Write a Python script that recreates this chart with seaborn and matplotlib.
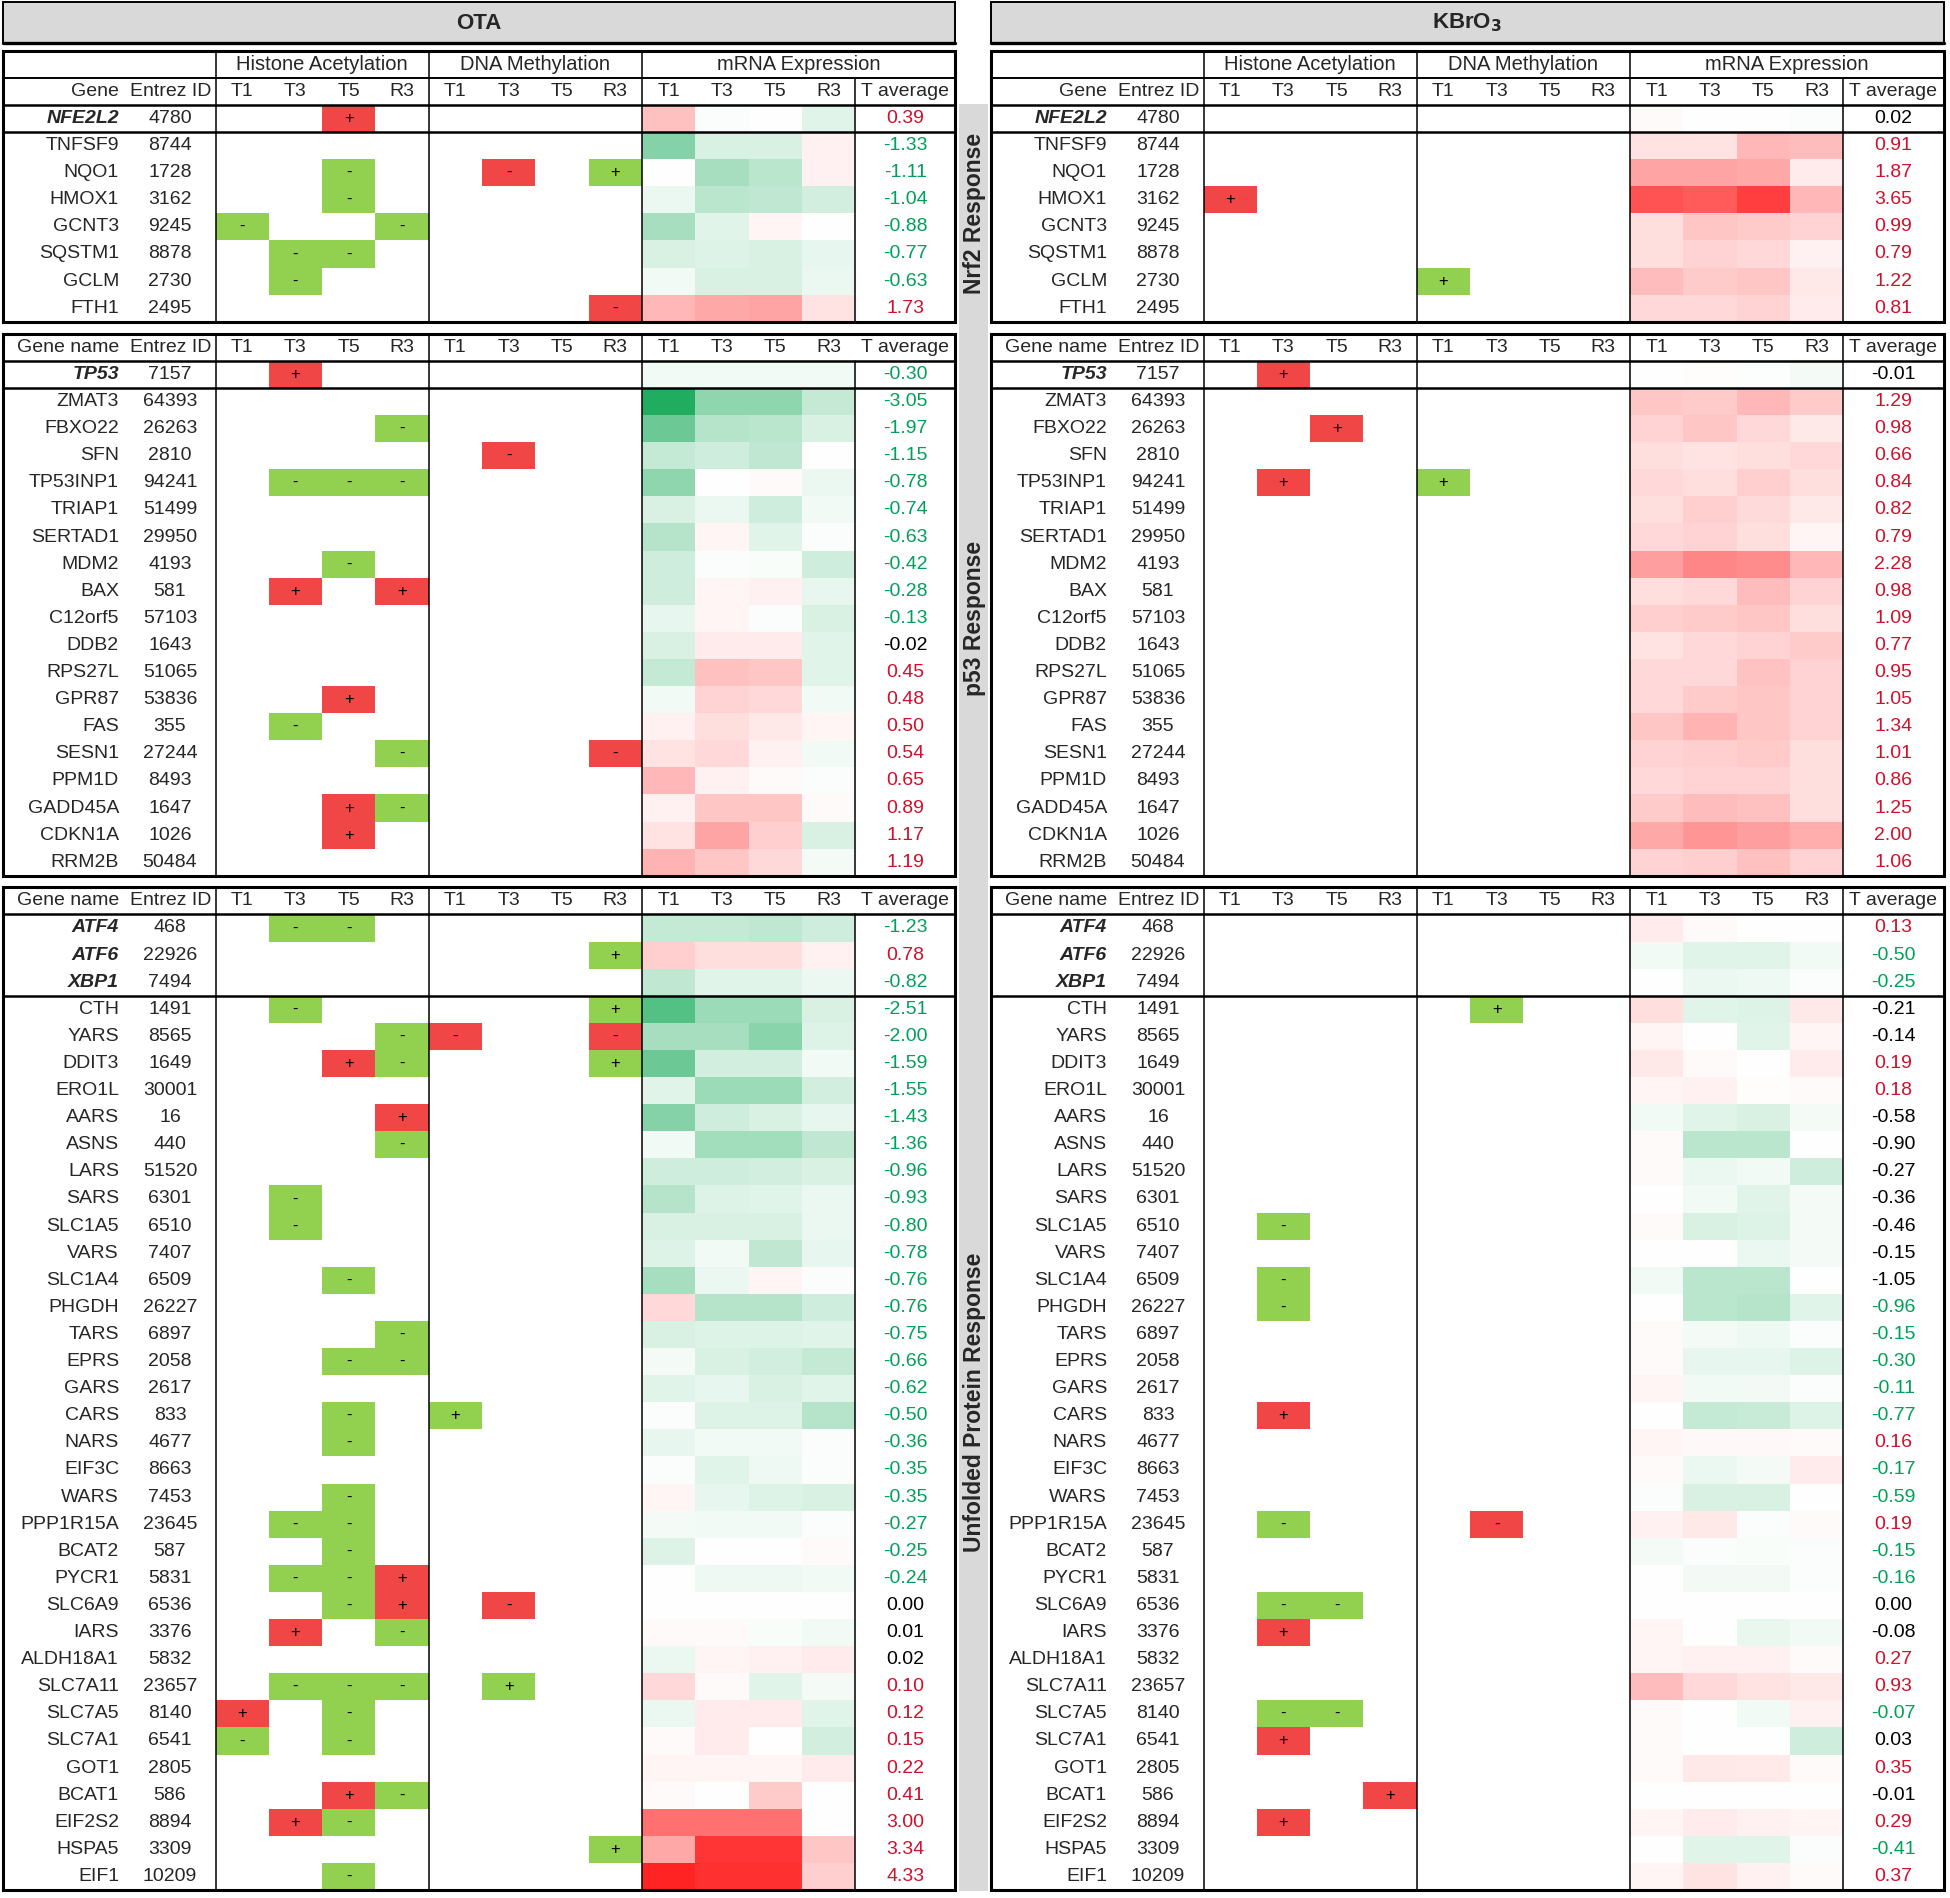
import numpy as np
import pandas as pd
import seaborn as sns
import matplotlib.pyplot as plt
from matplotlib.colors import LinearSegmentedColormap, ListedColormap
from matplotlib.patches import Rectangle

sns.set_theme(style="white")
plt.rcParams["font.family"] = ["Liberation Sans", "DejaVu Sans"]

time_points = ["T1", "T3", "T5", "R3"]
mark_cols = ["HA T1", "HA T3", "HA T5", "HA R3", "DM T1", "DM T3", "DM T5", "DM R3"]
treatments = ["OTA", r"KBrO$_\mathbf{3}$"]

# ---------------- Nrf2 response ----------------
nrf2_genes = ["NFE2L2", "TNFSF9", "NQO1", "HMOX1", "GCNT3", "SQSTM1", "GCLM", "FTH1"]
nrf2_entrez = ["4780", "8744", "1728", "3162", "9245", "8878", "2730", "2495"]

ota_nrf2_mrna = [
    [1.3, -0.1, 0.0, -0.6],
    [-2.5, -0.8, -0.8, 0.3],
    [0.0, -1.8, -1.4, 0.3],
    [-0.4, -1.4, -1.3, -0.9],
    [-1.8, -0.6, 0.2, 0.0],
    [-0.8, -0.7, -0.8, -0.5],
    [-0.3, -0.8, -0.8, -0.4],
    [1.5, 1.8, 1.9, 0.6],
]
ota_nrf2_avg = [0.39, -1.33, -1.11, -1.04, -0.88, -0.77, -0.63, 1.73]
ota_nrf2_marks = [
    ("NFE2L2", "HA T5", "+", "r"),
    ("NQO1", "HA T5", "-", "g"), ("NQO1", "DM T3", "-", "r"), ("NQO1", "DM R3", "+", "g"),
    ("HMOX1", "HA T5", "-", "g"),
    ("GCNT3", "HA T1", "-", "g"), ("GCNT3", "HA R3", "-", "g"),
    ("SQSTM1", "HA T3", "-", "g"), ("SQSTM1", "HA T5", "-", "g"),
    ("GCLM", "HA T3", "-", "g"),
    ("FTH1", "DM R3", "-", "r"),
]

kbro3_nrf2_mrna = [
    [0.1, 0.0, 0.0, -0.1],
    [0.6, 0.6, 1.5, 1.4],
    [1.9, 1.9, 1.8, 0.4],
    [3.6, 3.4, 4.0, 1.5],
    [0.7, 1.2, 1.1, 0.9],
    [0.7, 0.9, 0.8, 0.3],
    [1.4, 1.1, 1.2, 0.5],
    [0.8, 0.8, 0.9, 0.4],
]
kbro3_nrf2_avg = [0.02, 0.91, 1.87, 3.65, 0.99, 0.79, 1.22, 0.81]
kbro3_nrf2_marks = [
    ("HMOX1", "HA T1", "+", "r"),
    ("GCLM", "DM T1", "+", "g"),
]

# ---------------- p53 response ----------------
p53_genes = ["TP53", "ZMAT3", "FBXO22", "SFN", "TP53INP1", "TRIAP1", "SERTAD1", "MDM2", "BAX",
             "C12orf5", "DDB2", "RPS27L", "GPR87", "FAS", "SESN1", "PPM1D", "GADD45A", "CDKN1A", "RRM2B"]
p53_entrez = ["7157", "64393", "26263", "2810", "94241", "51499", "29950", "4193", "581",
              "57103", "1643", "51065", "53836", "355", "27244", "8493", "1647", "1026", "50484"]

ota_p53_mrna = [
    [-0.3, -0.3, -0.3, -0.3],
    [-4.5, -2.3, -2.3, -1.2],
    [-3.0, -1.5, -1.4, -0.8],
    [-1.2, -1.0, -1.3, 0.0],
    [-2.3, 0.0, 0.1, -0.4],
    [-0.8, -0.4, -1.0, -0.3],
    [-1.5, 0.2, -0.6, -0.1],
    [-1.0, -0.1, -0.15, -1.0],
    [-1.0, 0.2, 0.3, -0.5],
    [-0.5, 0.2, -0.1, -0.8],
    [-0.8, 0.4, 0.4, -0.6],
    [-1.2, 1.3, 1.2, -0.6],
    [-0.3, 0.9, 0.8, -0.3],
    [0.3, 0.7, 0.5, 0.2],
    [0.6, 0.8, 0.3, -0.3],
    [1.5, 0.3, 0.1, -0.1],
    [0.3, 1.2, 1.2, 0.1],
    [0.6, 1.9, 1.0, -0.8],
    [1.6, 1.2, 0.8, -0.2],
]
ota_p53_avg = [-0.30, -3.05, -1.97, -1.15, -0.78, -0.74, -0.63, -0.42, -0.28, -0.13,
               -0.02, 0.45, 0.48, 0.50, 0.54, 0.65, 0.89, 1.17, 1.19]
ota_p53_marks = [
    ("TP53", "HA T3", "+", "r"),
    ("FBXO22", "HA R3", "-", "g"),
    ("SFN", "DM T3", "-", "r"),
    ("TP53INP1", "HA T3", "-", "g"), ("TP53INP1", "HA T5", "-", "g"), ("TP53INP1", "HA R3", "-", "g"),
    ("MDM2", "HA T5", "-", "g"),
    ("BAX", "HA T3", "+", "r"), ("BAX", "HA R3", "+", "r"),
    ("GPR87", "HA T5", "+", "r"),
    ("FAS", "HA T3", "-", "g"),
    ("SESN1", "HA R3", "-", "g"), ("SESN1", "DM R3", "-", "r"),
    ("GADD45A", "HA T5", "+", "r"), ("GADD45A", "HA R3", "-", "g"),
    ("CDKN1A", "HA T5", "+", "r"),
]

kbro3_p53_mrna = [
    [0.0, 0.05, -0.05, -0.2],
    [1.2, 1.1, 1.5, 1.1],
    [0.9, 1.2, 0.8, 0.5],
    [0.7, 0.6, 0.7, 0.8],
    [0.8, 0.7, 1.0, 0.7],
    [0.7, 1.0, 0.75, 0.5],
    [0.8, 0.9, 0.7, 0.2],
    [2.0, 2.5, 2.4, 1.5],
    [0.7, 0.8, 1.4, 0.9],
    [1.0, 1.1, 1.2, 0.7],
    [0.6, 0.8, 0.9, 1.1],
    [0.8, 0.8, 1.25, 0.9],
    [0.8, 1.1, 1.2, 0.9],
    [1.2, 1.6, 1.2, 0.9],
    [0.9, 1.0, 1.1, 0.7],
    [0.8, 0.9, 0.9, 0.7],
    [1.1, 1.4, 1.3, 0.7],
    [1.8, 2.2, 2.0, 1.7],
    [0.9, 1.0, 1.3, 0.9],
]
kbro3_p53_avg = [-0.01, 1.29, 0.98, 0.66, 0.84, 0.82, 0.79, 2.28, 0.98, 1.09,
                 0.77, 0.95, 1.05, 1.34, 1.01, 0.86, 1.25, 2.00, 1.06]
kbro3_p53_marks = [
    ("TP53", "HA T3", "+", "r"),
    ("FBXO22", "HA T5", "+", "r"),
    ("TP53INP1", "HA T3", "+", "r"), ("TP53INP1", "DM T1", "+", "g"),
]

# ---------------- Unfolded protein response ----------------
upr_genes = ["ATF4", "ATF6", "XBP1", "CTH", "YARS", "DDIT3", "ERO1L", "AARS", "ASNS", "LARS",
             "SARS", "SLC1A5", "VARS", "SLC1A4", "PHGDH", "TARS", "EPRS", "GARS", "CARS", "NARS",
             "EIF3C", "WARS", "PPP1R15A", "BCAT2", "PYCR1", "SLC6A9", "IARS", "ALDH18A1", "SLC7A11",
             "SLC7A5", "SLC7A1", "GOT1", "BCAT1", "EIF2S2", "HSPA5", "EIF1"]
upr_entrez = ["468", "22926", "7494", "1491", "8565", "1649", "30001", "16", "440", "51520",
              "6301", "6510", "7407", "6509", "26227", "6897", "2058", "2617", "833", "4677",
              "8663", "7453", "23645", "587", "5831", "6536", "3376", "5832", "23657",
              "8140", "6541", "2805", "586", "8894", "3309", "10209"]

ota_upr_mrna = [
    [-1.2, -1.2, -1.3, -1.0],
    [1.0, 0.7, 0.7, 0.3],
    [-1.3, -0.6, -0.6, -0.4],
    [-3.5, -2.0, -2.0, -0.8],
    [-1.8, -1.8, -2.4, -0.7],
    [-3.0, -0.9, -0.9, -0.3],
    [-0.6, -2.0, -2.0, -0.9],
    [-2.5, -1.0, -0.8, -0.5],
    [-0.3, -1.9, -1.9, -1.3],
    [-1.0, -1.0, -0.9, -0.8],
    [-1.5, -0.7, -0.6, -0.4],
    [-0.8, -0.8, -0.8, -0.4],
    [-0.7, -0.3, -1.3, -0.5],
    [-1.8, -0.4, 0.2, -0.1],
    [0.8, -1.5, -1.5, -1.0],
    [-0.8, -0.7, -0.7, -0.6],
    [-0.2, -0.8, -0.9, -1.2],
    [-0.6, -0.5, -0.8, -0.6],
    [-0.1, -0.7, -0.7, -1.5],
    [-0.5, -0.3, -0.3, -0.1],
    [-0.1, -0.6, -0.35, -0.1],
    [0.2, -0.5, -0.7, -0.8],
    [-0.2, -0.3, -0.3, -0.1],
    [-0.7, 0.0, 0.0, 0.1],
    [0.0, -0.35, -0.35, -0.3],
    [0.0, 0.0, 0.0, 0.0],
    [0.1, 0.1, -0.15, -0.3],
    [-0.4, 0.2, 0.3, 0.4],
    [0.8, 0.1, -0.6, -0.2],
    [-0.4, 0.4, 0.4, -0.6],
    [0.1, 0.4, 0.0, -0.9],
    [0.2, 0.2, 0.2, 0.4],
    [0.1, 0.0, 1.1, 0.0],
    [3.0, 3.0, 3.0, 0.0],
    [1.8, 4.2, 4.2, 1.2],
    [4.6, 4.3, 4.3, 1.0],
]
ota_upr_avg = [-1.23, 0.78, -0.82, -2.51, -2.00, -1.59, -1.55, -1.43, -1.36, -0.96,
               -0.93, -0.80, -0.78, -0.76, -0.76, -0.75, -0.66, -0.62, -0.50, -0.36,
               -0.35, -0.35, -0.27, -0.25, -0.24, 0.00, 0.01, 0.02, 0.10,
               0.12, 0.15, 0.22, 0.41, 3.00, 3.34, 4.33]
ota_upr_marks = [
    ("ATF4", "HA T3", "-", "g"), ("ATF4", "HA T5", "-", "g"),
    ("ATF6", "DM R3", "+", "g"),
    ("CTH", "HA T3", "-", "g"), ("CTH", "DM R3", "+", "g"),
    ("YARS", "HA R3", "-", "g"), ("YARS", "DM T1", "-", "r"), ("YARS", "DM R3", "-", "r"),
    ("DDIT3", "HA T5", "+", "r"), ("DDIT3", "HA R3", "-", "g"), ("DDIT3", "DM R3", "+", "g"),
    ("AARS", "HA R3", "+", "r"),
    ("ASNS", "HA R3", "-", "g"),
    ("SARS", "HA T3", "-", "g"),
    ("SLC1A5", "HA T3", "-", "g"),
    ("SLC1A4", "HA T5", "-", "g"),
    ("TARS", "HA R3", "-", "g"),
    ("EPRS", "HA T5", "-", "g"), ("EPRS", "HA R3", "-", "g"),
    ("CARS", "HA T5", "-", "g"), ("CARS", "DM T1", "+", "g"),
    ("NARS", "HA T5", "-", "g"),
    ("WARS", "HA T5", "-", "g"),
    ("PPP1R15A", "HA T3", "-", "g"), ("PPP1R15A", "HA T5", "-", "g"),
    ("BCAT2", "HA T5", "-", "g"),
    ("PYCR1", "HA T3", "-", "g"), ("PYCR1", "HA T5", "-", "g"), ("PYCR1", "HA R3", "+", "r"),
    ("SLC6A9", "HA T5", "-", "g"), ("SLC6A9", "HA R3", "+", "r"), ("SLC6A9", "DM T3", "-", "r"),
    ("IARS", "HA T3", "+", "r"), ("IARS", "HA R3", "-", "g"),
    ("SLC7A11", "HA T3", "-", "g"), ("SLC7A11", "HA T5", "-", "g"), ("SLC7A11", "HA R3", "-", "g"),
    ("SLC7A11", "DM T3", "+", "g"),
    ("SLC7A5", "HA T1", "+", "r"), ("SLC7A5", "HA T5", "-", "g"),
    ("SLC7A1", "HA T1", "-", "g"), ("SLC7A1", "HA T5", "-", "g"),
    ("BCAT1", "HA T5", "+", "r"), ("BCAT1", "HA R3", "-", "g"),
    ("EIF2S2", "HA T3", "+", "r"), ("EIF2S2", "HA T5", "-", "g"),
    ("HSPA5", "DM R3", "+", "g"),
    ("EIF1", "HA T5", "-", "g"),
]

kbro3_upr_mrna = [
    [0.4, 0.1, 0.0, 0.0],
    [-0.3, -0.6, -0.6, -0.3],
    [0.0, -0.4, -0.35, -0.1],
    [0.7, -0.6, -0.7, 0.5],
    [0.2, 0.0, -0.6, 0.2],
    [0.5, 0.1, 0.0, 0.4],
    [0.2, 0.3, 0.05, 0.1],
    [-0.3, -0.6, -0.8, -0.2],
    [0.1, -1.4, -1.4, 0.0],
    [0.1, -0.4, -0.3, -1.0],
    [0.0, -0.3, -0.6, -0.2],
    [0.1, -0.8, -0.7, -0.2],
    [0.0, 0.0, -0.4, -0.2],
    [-0.3, -1.4, -1.4, 0.0],
    [0.0, -1.4, -1.5, -0.6],
    [0.1, -0.2, -0.35, -0.1],
    [0.1, -0.5, -0.5, -0.7],
    [0.2, -0.3, -0.25, -0.1],
    [0.0, -1.2, -1.1, -0.7],
    [0.2, 0.15, 0.15, 0.1],
    [0.1, -0.4, -0.2, 0.4],
    [-0.1, -0.8, -0.8, 0.0],
    [0.3, 0.5, -0.1, 0.1],
    [-0.2, -0.1, -0.15, -0.1],
    [0.0, -0.25, -0.25, -0.1],
    [0.0, 0.0, 0.0, 0.0],
    [0.2, 0.0, -0.45, -0.3],
    [0.2, 0.3, 0.3, 0.1],
    [1.4, 0.8, 0.6, 0.5],
    [0.1, 0.0, -0.3, 0.3],
    [0.1, 0.0, 0.0, -1.0],
    [0.1, 0.5, 0.45, 0.1],
    [0.0, 0.0, 0.0, 0.0],
    [0.2, 0.4, 0.3, 0.2],
    [0.0, -0.6, -0.6, -0.1],
    [0.2, 0.6, 0.3, 0.1],
]
kbro3_upr_avg = [0.13, -0.50, -0.25, -0.21, -0.14, 0.19, 0.18, -0.58, -0.90, -0.27,
                 -0.36, -0.46, -0.15, -1.05, -0.96, -0.15, -0.30, -0.11, -0.77, 0.16,
                 -0.17, -0.59, 0.19, -0.15, -0.16, 0.00, -0.08, 0.27, 0.93,
                 -0.07, 0.03, 0.35, -0.01, 0.29, -0.41, 0.37]
kbro3_upr_marks = [
    ("CTH", "DM T3", "+", "g"),
    ("SLC1A5", "HA T3", "-", "g"),
    ("SLC1A4", "HA T3", "-", "g"),
    ("PHGDH", "HA T3", "-", "g"),
    ("CARS", "HA T3", "+", "r"),
    ("PPP1R15A", "HA T3", "-", "g"), ("PPP1R15A", "DM T3", "-", "r"),
    ("SLC6A9", "HA T3", "-", "g"), ("SLC6A9", "HA T5", "-", "g"),
    ("IARS", "HA T3", "+", "r"),
    ("SLC7A5", "HA T3", "-", "g"), ("SLC7A5", "HA T5", "-", "g"),
    ("SLC7A1", "HA T3", "+", "r"),
    ("BCAT1", "HA R3", "+", "r"),
    ("EIF2S2", "HA T3", "+", "r"),
]
# averages printed in black in the original although not zero
kbro3_upr_black = ["CTH", "YARS", "AARS", "ASNS", "LARS", "SARS", "SLC1A5", "VARS", "SLC1A4", "IARS"]

sections = [
    dict(label="Nrf2 Response", genes=nrf2_genes, entrez=nrf2_entrez, n_key=1, head_rows=2, first="Gene",
         panels=[(ota_nrf2_mrna, ota_nrf2_avg, ota_nrf2_marks, []),
                 (kbro3_nrf2_mrna, kbro3_nrf2_avg, kbro3_nrf2_marks, [])]),
    dict(label="p53 Response", genes=p53_genes, entrez=p53_entrez, n_key=1, head_rows=1, first="Gene name",
         panels=[(ota_p53_mrna, ota_p53_avg, ota_p53_marks, []),
                 (kbro3_p53_mrna, kbro3_p53_avg, kbro3_p53_marks, [])]),
    dict(label="Unfolded Protein Response", genes=upr_genes, entrez=upr_entrez, n_key=3, head_rows=1,
         first="Gene name",
         panels=[(ota_upr_mrna, ota_upr_avg, ota_upr_marks, []),
                 (kbro3_upr_mrna, kbro3_upr_avg, kbro3_upr_marks, kbro3_upr_black)]),
]

# layout (pixels of the 1950 x 1898 output)
W, H = 1950, 1898
ROW = 27.1
GENE_W = 212.5
CELL = 53.3
AVG_W = 100.4
PANEL_X = [3, 991]
SECTION_TOP = [50.7, 333.8, 887.3]
FS = 14

MARK_RED = "#F04646"
MARK_GREEN = "#92D050"
TXT_RED = "#D0102C"
TXT_GREEN = "#00A05A"
expr_cmap = LinearSegmentedColormap.from_list("expr", ["#0AA550", "#FFFFFF", "#FF1010"])
mark_cmap = ListedColormap([MARK_GREEN, MARK_RED])

fig = plt.figure(figsize=(W / 100, H / 100), dpi=100)
ax = fig.add_axes([0, 0, 1, 1])
ax.set_xlim(0, W)
ax.set_ylim(H, 0)
ax.set_zorder(5)
ax.patch.set_visible(False)
ax.axis("off")


def fig_rect(x, y, w, h):
    return [x / W, 1 - (y + h) / H, w / W, h / H]


def avg_colour(v, black):
    if black or abs(v) < 0.05:
        return "black"
    return TXT_RED if v > 0 else TXT_GREEN


for p, x0 in enumerate(PANEL_X):
    xs = x0 + GENE_W + CELL * np.arange(13)
    x_right = xs[12] + AVG_W

    # title box
    ax.add_patch(Rectangle((x0, 2), x_right - x0, 41, facecolor="#D9D9D9", edgecolor="black", lw=1.4))
    ax.plot([x0, x_right], [43, 43], color="black", lw=2.4)
    ax.text((x0 + x_right) / 2, 23, treatments[p], ha="center", va="center", fontsize=16, fontweight="bold")

    for s, sec in enumerate(sections):
        mrna, avg, marks, black = sec["panels"][p]
        genes = sec["genes"]
        n = len(genes)
        top = SECTION_TOP[s]
        data_top = top + sec["head_rows"] * ROW
        bottom = data_top + n * ROW

        # mRNA expression heatmap
        expr = pd.DataFrame(mrna, index=genes, columns=time_points)
        hax = fig.add_axes(fig_rect(xs[8], data_top, 4 * CELL, n * ROW))
        sns.heatmap(expr, ax=hax, cmap=expr_cmap, vmin=-5, vmax=5, cbar=False,
                    xticklabels=False, yticklabels=False)
        hax.set_axis_off()

        # histone acetylation / DNA methylation marks
        code = pd.DataFrame(0, index=genes, columns=mark_cols)
        sym = pd.DataFrame("", index=genes, columns=mark_cols)
        for g, c, sign, colour in marks:
            code.loc[g, c] = 1 if colour == "g" else 2
            sym.loc[g, c] = sign
        max_ = fig.add_axes(fig_rect(xs[0], data_top, 8 * CELL, n * ROW))
        sns.heatmap(code, mask=code.values == 0, ax=max_, cmap=mark_cmap, vmin=0.5, vmax=2.5,
                    annot=sym.values, fmt="", annot_kws=dict(size=12, color="black"),
                    cbar=False, xticklabels=False, yticklabels=False)
        max_.set_axis_off()

        # header rows
        yh = top + ROW / 2
        if sec["head_rows"] == 2:
            ax.text((xs[0] + xs[4]) / 2, yh, "Histone Acetylation", ha="center", va="center", fontsize=FS + 0.5)
            ax.text((xs[4] + xs[8]) / 2, yh, "DNA Methylation", ha="center", va="center", fontsize=FS + 0.5)
            ax.text((xs[8] + x_right) / 2, yh, "mRNA Expression", ha="center", va="center", fontsize=FS + 0.5)
            ax.plot([x0, x_right], [top + ROW, top + ROW], color="black", lw=1.4)
            yh += ROW
        ax.text(x0 + 116, yh, sec["first"], ha="right", va="center", fontsize=FS)
        ax.text(x0 + 168, yh, "Entrez ID", ha="center", va="center", fontsize=FS)
        for k in range(12):
            ax.text((xs[k] + xs[k + 1]) / 2, yh, time_points[k % 4], ha="center", va="center", fontsize=FS)
        ax.text((xs[12] + x_right) / 2, yh, "T average", ha="center", va="center", fontsize=FS)

        # gene rows
        for i, g in enumerate(genes):
            yc = data_top + (i + 0.5) * ROW
            key = i < sec["n_key"]
            ax.text(x0 + 116, yc, g, ha="right", va="center", fontsize=FS,
                    fontstyle="italic" if key else "normal", fontweight="bold" if key else "normal")
            ax.text(x0 + 167, yc, sec["entrez"][i], ha="center", va="center", fontsize=FS)
            ax.text((xs[12] + x_right) / 2, yc, f"{avg[i]:.2f}", ha="center", va="center", fontsize=FS,
                    color=avg_colour(avg[i], g in black))

        # grid lines
        ax.add_patch(Rectangle((x0, top), x_right - x0, bottom - top, fill=False, edgecolor="black", lw=2.2))
        ax.plot([x0, x_right], [data_top, data_top], color="black", lw=1.8)
        ysep = data_top + sec["n_key"] * ROW
        ax.plot([x0, x_right], [ysep, ysep], color="black", lw=1.8)
        for k in (0, 4, 8):
            ax.plot([xs[k], xs[k]], [top, bottom], color="black", lw=1.1)
        if sec["head_rows"] == 2:
            y_avg = top + ROW
        else:
            y_avg = top if p == 1 else data_top
        ax.plot([xs[12], xs[12]], [y_avg, bottom], color="black", lw=1.1)

# response labels in the middle band
ax.add_patch(Rectangle((959, 104), 29, 1891 - 104, facecolor="#D9D9D9", edgecolor="none"))
for s, sec in enumerate(sections):
    top = SECTION_TOP[s] + sec["head_rows"] * ROW
    mid = top + len(sec["genes"]) * ROW / 2
    ax.text(974, mid, sec["label"], rotation=90, ha="center", va="center", fontsize=16.5,
            fontweight="bold")

fig.savefig("out.png", dpi=100)
